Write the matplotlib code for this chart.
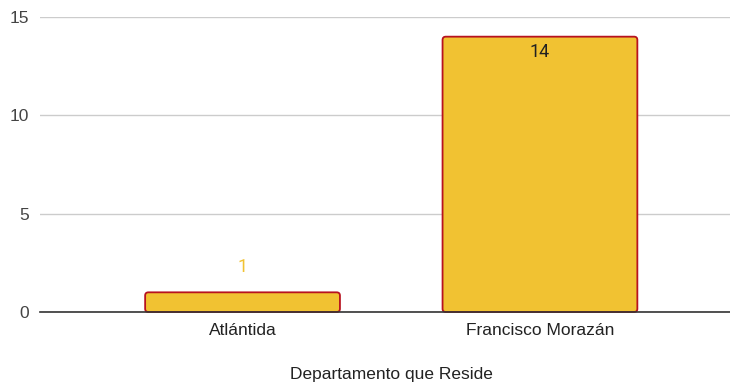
import matplotlib
matplotlib.use("Agg")
import matplotlib.pyplot as plt
from matplotlib.patches import FancyBboxPatch

categories = ["Atlántida", "Francisco Morazán"]
values = [1, 14]
y_ticks = [0, 5, 10, 15]
x_title = "Departamento que Reside"

fill = "#f1c232"
edge = "#b7121f"

fig = plt.figure(figsize=(7.30, 3.87), dpi=100)
ax = fig.add_axes([40 / 730, 75 / 387, 690 / 730, 295 / 387])

x_pos = list(range(len(categories)))
ax.set_xlim(-0.681, 1.639)
ax.set_ylim(0, 15)

width = 0.655
r_x = 0.011
aspect = (15 / 295) / (1 / 297.5)
for x, v in zip(x_pos, values):
    patch = FancyBboxPatch((x - width / 2, 0), width, v,
                           boxstyle=f"round,pad=0,rounding_size={r_x}",
                           mutation_aspect=aspect,
                           facecolor=fill, edgecolor=edge, linewidth=1.3,
                           zorder=3, clip_on=False)
    ax.add_patch(patch)

# value labels: outside above short bars, inside near the top for tall ones
for x, v in zip(x_pos, values):
    if v < 3:
        ax.text(x, v + 1.3, str(v), ha="center", va="center",
                fontsize=13, color=fill, family="Roboto", zorder=4)
    else:
        ax.text(x, v - 0.8, str(v), ha="center", va="center",
                fontsize=13, color="#222222", family="Roboto", zorder=4)

ax.set_yticks(y_ticks)
ax.set_yticklabels([str(t) for t in y_ticks], fontsize=12.5, color="#444444",
                   family="Liberation Sans")
ax.set_xticks(x_pos)
ax.set_xticklabels(categories, fontsize=12.5, color="#222222",
                   family="Liberation Sans")
ax.tick_params(axis="both", length=0)
ax.tick_params(axis="y", pad=8)
ax.tick_params(axis="x", pad=8)

ax.grid(axis="y", color="#cccccc", linewidth=1, zorder=0)
ax.set_axisbelow(True)
for s in ["top", "right", "left"]:
    ax.spines[s].set_visible(False)
ax.spines["bottom"].set_color("#333333")
ax.spines["bottom"].set_linewidth(1.2)
ax.spines["bottom"].set_zorder(5)

ax.set_xlabel(x_title, fontsize=12.5, color="#222222", family="Liberation Sans")
ax.xaxis.set_label_coords(351 / 690, -0.185)

fig.savefig("out.png", dpi=100)
